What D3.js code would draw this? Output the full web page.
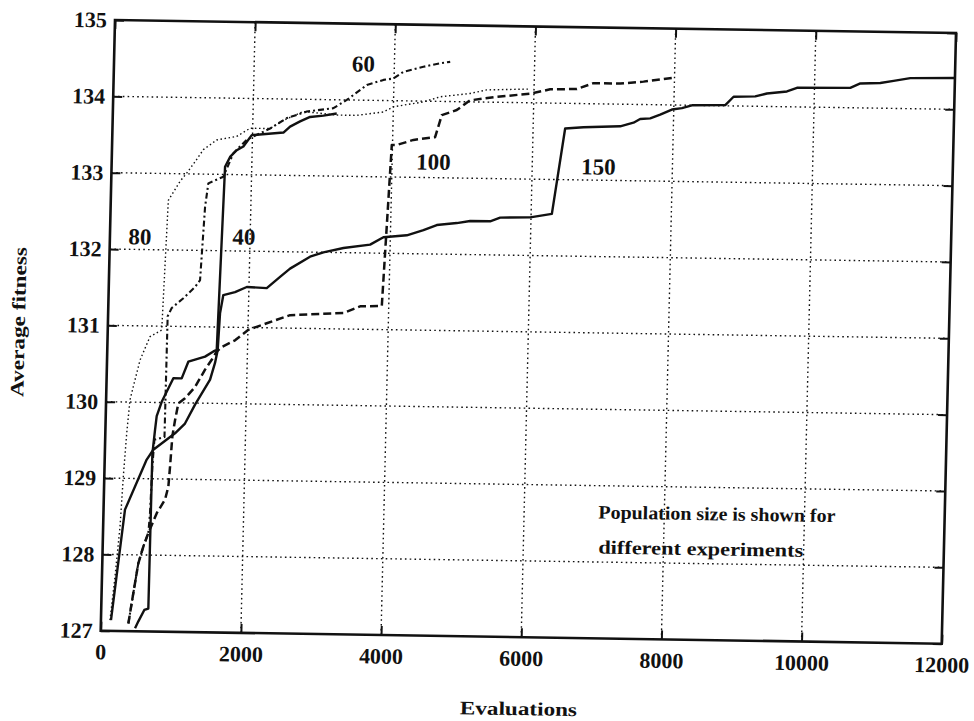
<!DOCTYPE html>
<html>
<head>
<meta charset="utf-8">
<script src="https://cdn.jsdelivr.net/npm/d3@7"></script>
<style>
  body { margin: 0; background: #fff; }
  text { font-family: "Liberation Serif", "DejaVu Serif", serif; fill: #111; }
</style>
</head>
<body>
<svg id="chart" width="974" height="721"></svg>
<script>
// values: [evaluations, average fitness]
var pop40 = [[489,127.04],[534,127.13],[615,127.28],[672,127.30],[678,129.33],[708,129.64],[727,129.82],[794,130.01],[952,130.32],[1071,130.32],[1160,130.54],[1397,130.61],[1514,130.68],[1561,130.7],[1619,133.10],[1687,133.23],[1780,133.32],[1873,133.37],[1989,133.52],[2440,133.56],[2533,133.64],[2674,133.71],[2815,133.77],[3005,133.79],[3194,133.82]];
var pop60 = [[392,127.1],[453,127.5],[514,127.89],[580,128.11],[647,128.29],[664,128.55],[682,129.16],[702,129.51],[845,129.55],[850,131.13],[905,131.24],[1068,131.37],[1231,131.52],[1300,131.61],[1347,132.57],[1386,132.88],[1598,132.97],[1733,133.28],[1919,133.46],[2248,133.61],[2483,133.75],[2766,133.84],[3145,133.89],[3333,134.0],[3613,134.2],[3849,134.27],[3991,134.29],[4131,134.38],[4415,134.45],[4652,134.5],[4795,134.52]];
var pop80 = [[129,127.14],[186,127.71],[241,128.37],[271,129.02],[305,129.59],[341,130.03],[470,130.55],[605,130.86],[770,130.95],[821,132.65],[981,132.9],[1074,133.01],[1189,133.16],[1304,133.32],[1491,133.45],[1775,133.5],[1963,133.61],[2248,133.61],[2435,133.72],[2718,133.84],[3195,133.8],[3480,133.8],[3859,133.85],[4001,133.92],[4427,133.99],[4663,134.06],[5090,134.11],[5327,134.16],[5945,134.18]];
var pop100 = [[392,127.1],[453,127.5],[514,127.89],[580,128.11],[647,128.29],[760,128.55],[874,128.73],[917,128.9],[934,129.16],[957,129.56],[990,129.77],[1031,129.99],[1125,130.06],[1264,130.21],[1401,130.44],[1493,130.57],[1561,130.68],[1631,130.74],[1819,130.83],[2006,130.97],[2266,131.06],[2596,131.17],[3356,131.21],[3592,131.3],[3901,131.31],[3990,133.42],[4060,133.42],[4297,133.49],[4605,133.53],[4693,133.82],[4905,133.89],[5092,134.02],[5472,134.07],[5946,134.12],[6230,134.18],[6611,134.19],[6846,134.27],[7227,134.27],[7559,134.3],[8010,134.36]];
var pop150 = [[143,127.14],[306,128.59],[599,129.25],[690,129.38],[994,129.6],[1133,129.73],[1270,129.98],[1476,130.31],[1541,130.53],[1575,130.70],[1596,131.18],[1637,131.42],[1803,131.46],[1969,131.53],[2254,131.52],[2440,131.67],[2580,131.78],[2861,131.94],[3050,132.0],[3335,132.06],[3714,132.11],[3901,132.21],[4234,132.24],[4470,132.31],[4658,132.38],[4943,132.41],[5133,132.44],[5418,132.44],[5560,132.49],[5988,132.5],[6296,132.55],[6457,133.67],[6718,133.69],[7241,133.71],[7430,133.76],[7524,133.81],[7667,133.82],[7808,133.87],[7973,133.94],[8116,133.96],[8257,134.0],[8733,134.01],[8849,134.12],[9158,134.13],[9323,134.17],[9608,134.2],[9750,134.25],[10510,134.26],[10652,134.32],[10937,134.33],[11126,134.36],[11363,134.4],[12000,134.41]];

var xTicks = [0,2000,4000,6000,8000,10000,12000];
var yTicks = [127,128,129,130,131,132,133,134,135];

// curve labels: text, evaluations, fitness
var curveLabels = [["80",429,132.17],["40",1913,132.19],["60",3558,134.48],["100",4589,133.21],["150",6945,133.18]];
var note = ["Population size is shown for", "different experiments"];

var W = 841, H = 611;
var svg = d3.select('#chart');
svg.append('rect').attr('width',974).attr('height',721).attr('fill','#fff');

// the scan is slightly skewed, so the whole plot sits in a tilted frame
var g = svg.append('g').attr('transform','matrix(1,0.01546,-0.0234,0.9995,115,20)');

var x = d3.scaleLinear().domain([0,12000]).range([0,W]);
var y = d3.scaleLinear().domain([127,135]).range([H,0]);

// dotted grid
g.append('g').selectAll('line').data(xTicks.slice(1,-1)).join('line')
  .attr('x1',d=>x(d)).attr('x2',d=>x(d)).attr('y1',0).attr('y2',H)
  .attr('stroke','#111').attr('stroke-width',1.4).attr('stroke-dasharray','1.6,3.2');
g.append('g').selectAll('line').data(yTicks.slice(1,-1)).join('line')
  .attr('y1',d=>y(d)).attr('y2',d=>y(d)).attr('x1',0).attr('x2',W)
  .attr('stroke','#111').attr('stroke-width',1.4).attr('stroke-dasharray','1.6,3.2');

// axes with inward ticks on all four sides
var xa = g.append('g').attr('transform','translate(0,'+H+')')
  .call(d3.axisBottom(x).tickValues(xTicks).tickSizeInner(-9).tickSizeOuter(0).tickPadding(13).tickFormat(d3.format('d')));
var ya = g.append('g')
  .call(d3.axisLeft(y).tickValues(yTicks).tickSizeInner(-9).tickSizeOuter(0).tickPadding(8).tickFormat(d3.format('d')));
g.append('g').attr('transform','translate('+W+',0)')
  .call(d3.axisRight(y).tickValues(yTicks).tickSizeInner(-9).tickSizeOuter(0).tickFormat(''));
g.append('g')
  .call(d3.axisTop(x).tickValues(xTicks).tickSizeInner(-9).tickSizeOuter(0).tickFormat(''));
g.selectAll('.domain').remove();
g.selectAll('.tick line').attr('stroke','#111').attr('stroke-width',2);
xa.selectAll('text').style('font-size','22px').style('font-weight','bold').attr('fill','#111');
ya.selectAll('text').style('font-size','22px').style('font-weight','bold').attr('fill','#111');

g.append('rect').attr('width',W).attr('height',H)
  .attr('fill','none').attr('stroke','#111').attr('stroke-width',2.6);

// curves
var line = d3.line().x(d=>x(d[0])).y(d=>y(d[1]));
var series = [
  {data: pop80, dash: '1.5,2.6', w: 1.4},
  {data: pop60, dash: '6,3,2,3', w: 2.1},
  {data: pop100, dash: '8,4', w: 2.5},
  {data: pop40, dash: null, w: 2.4},
  {data: pop150, dash: null, w: 2.4}
];
g.append('g').selectAll('path').data(series).join('path')
  .attr('d',d=>line(d.data))
  .attr('fill','none').attr('stroke','#111')
  .attr('stroke-width',d=>d.w)
  .attr('stroke-dasharray',d=>d.dash)
  .attr('stroke-linejoin','round');

g.append('g').selectAll('text').data(curveLabels).join('text')
  .attr('x',d=>x(d[1])).attr('y',d=>y(d[2])).attr('dy','0.35em')
  .attr('text-anchor','middle')
  .style('font-size','23px').style('font-weight','bold')
  .text(d=>d[0]);

// note inside the plot
g.append('text').attr('x',x(7060)).attr('y',y(128.57))
  .attr('textLength',237).attr('lengthAdjust','spacingAndGlyphs')
  .style('font-size','19px').style('font-weight','bold').text(note[0]);
g.append('text').attr('x',x(7070)).attr('y',y(128.11))
  .attr('textLength',205).attr('lengthAdjust','spacingAndGlyphs')
  .style('font-size','19px').style('font-weight','bold').text(note[1]);

// axis titles
g.append('text').attr('x',W/2 - 1).attr('y',H + 78)
  .attr('text-anchor','middle').attr('textLength',117).attr('lengthAdjust','spacingAndGlyphs')
  .style('font-size','19px').style('font-weight','bold').text('Evaluations');
g.append('text').attr('transform','translate(-83,303.5) rotate(-90)')
  .attr('text-anchor','middle').attr('textLength',150).attr('lengthAdjust','spacingAndGlyphs')
  .style('font-size','19px').style('font-weight','bold').text('Average fitness');
</script>
</body>
</html>
